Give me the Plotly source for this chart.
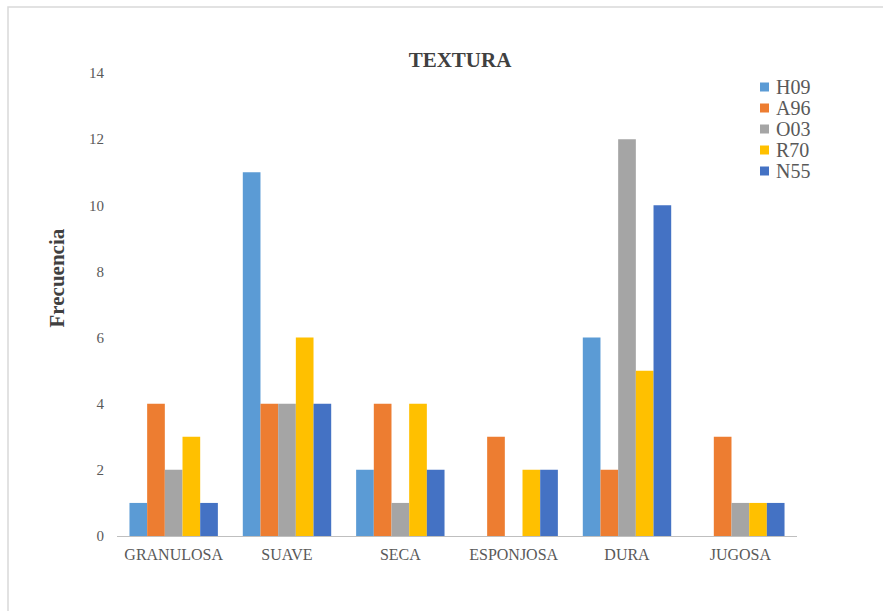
import plotly.graph_objects as go

categories = ["GRANULOSA", "SUAVE", "SECA", "ESPONJOSA", "DURA", "JUGOSA"]
series_names = ["H09", "A96", "O03", "R70", "N55"]
H09 = [1, 11, 2, 0, 6, 0]
A96 = [4, 4, 4, 3, 2, 3]
O03 = [2, 4, 1, 0, 12, 1]
R70 = [3, 6, 4, 2, 5, 1]
N55 = [1, 4, 2, 2, 10, 1]
values = [H09, A96, O03, R70, N55]
colors = ["#5B9BD5", "#ED7D31", "#A5A5A5", "#FFC000", "#4472C4"]
yticks = [0, 2, 4, 6, 8, 10, 12, 14]

SERIF = "Liberation Serif"

fig = go.Figure()
for name, vals, col in zip(series_names, values, colors):
    fig.add_trace(go.Bar(x=categories, y=vals, name=name, showlegend=False,
                         marker=dict(color=col, line=dict(width=0))))

W, H = 883, 611
l, r, t, b = 117, 86, 73, 75
pw, ph = W - l - r, H - t - b

fig.update_layout(
    width=W, height=H,
    margin=dict(l=l, r=r, t=t, b=b),
    paper_bgcolor="white", plot_bgcolor="white",
    barmode="group", bargap=0.22, bargroupgap=0,
    font=dict(family=SERIF, color="#595959", size=15),
    title=dict(text="<b>TEXTURA</b>", x=460 / W, xanchor="center",
               y=1 - 60 / H, yanchor="middle",
               font=dict(size=21, color="#404040", family=SERIF)),
    xaxis=dict(showgrid=False, showline=True, linecolor="#BFBFBF", linewidth=1,
               ticks="", ticklabelstandoff=4, tickfont=dict(size=16, color="#595959", family=SERIF)),
    yaxis=dict(range=[0, 14], tickvals=yticks, showgrid=False, showline=False, zeroline=False,
               ticks="", ticklabelstandoff=12, tickfont=dict(size=15, color="#595959", family=SERIF)),
    showlegend=False,
)

# y-axis title
fig.add_annotation(text="<b>Frecuencia</b>", xref="paper", yref="paper",
                   x=(56.5 - l) / pw, y=1 - (278 - t) / ph, textangle=-90,
                   xanchor="center", yanchor="middle", showarrow=False,
                   font=dict(size=21, color="#404040", family=SERIF))

# manual legend (Excel-like compact spacing)
leg_x_sq = 760
leg_y0 = 87
leg_dy = 21
sq = 9
for i, (name, col) in enumerate(zip(series_names, colors)):
    yc = leg_y0 + i * leg_dy
    fig.add_shape(type="rect", xref="paper", yref="paper",
                  x0=(leg_x_sq - l) / pw, x1=(leg_x_sq + sq - l) / pw,
                  y0=1 - (yc + sq / 2 - t) / ph, y1=1 - (yc - sq / 2 - t) / ph,
                  line=dict(width=0), fillcolor=col)
    fig.add_annotation(text=name, xref="paper", yref="paper",
                       x=(leg_x_sq + sq + 5 - l) / pw, y=1 - (yc - t) / ph,
                       xanchor="left", yanchor="middle", showarrow=False,
                       font=dict(size=20, color="#595959", family=SERIF))

fig.add_shape(type="rect", xref="paper", yref="paper",
              x0=(8 - l) / pw, x1=(895 - l) / pw,
              y0=-(625 - 536) / ph, y1=1 + (t - 7) / ph,
              line=dict(color="#D9D9D9", width=1.5), fillcolor="rgba(0,0,0,0)", layer="below")

fig.write_html("out.html")
